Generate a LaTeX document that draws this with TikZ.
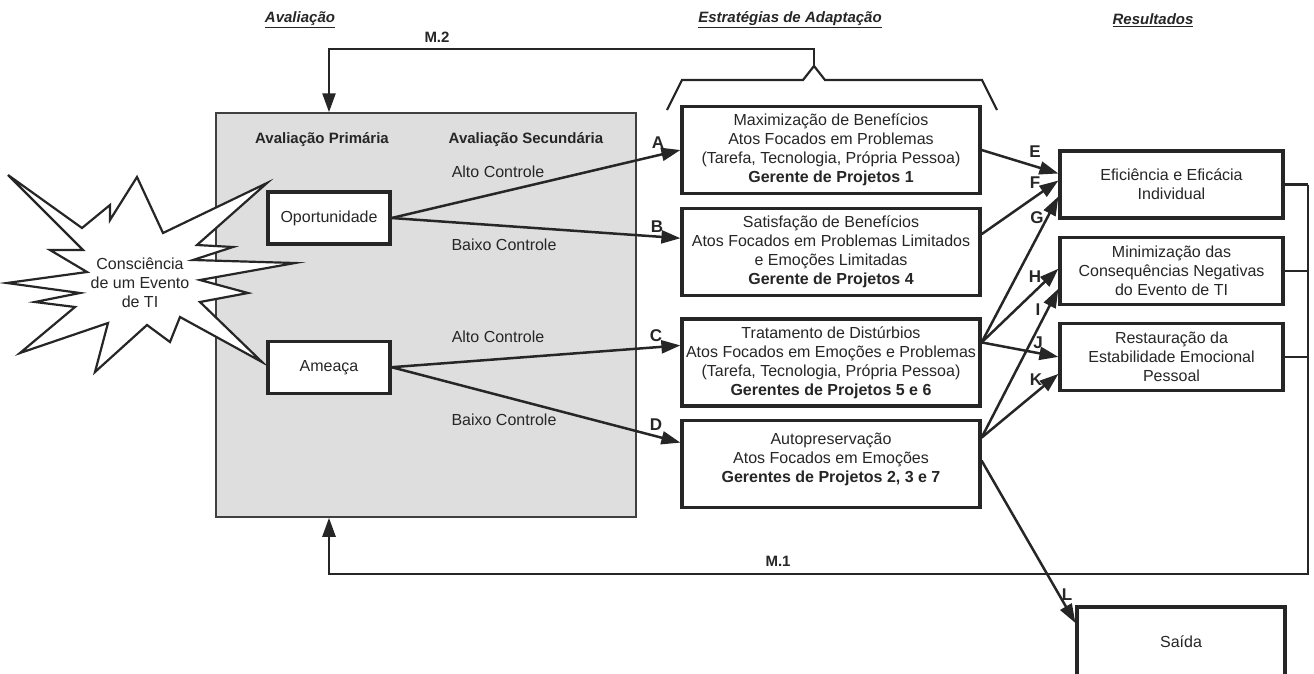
\documentclass[tikz,border=0pt]{standalone}
\usepackage{fontspec}
\setmainfont{Liberation Sans}
\usetikzlibrary{positioning}
\usetikzlibrary{arrows.meta}

\begin{document}
\begin{tikzpicture}[x=1pt,y=-1pt,
    every node/.style={font=\fontsize{16}{19}\selectfont, text=black!85},
    caixa/.style={draw=black!85, line width=3.2pt, fill=white, align=center,
                  minimum width=298pt, minimum height=87pt},
    resbox/.style={caixa, minimum width=223pt, minimum height=67pt},
    avbox/.style={caixa, minimum width=122pt, minimum height=52pt},
    seta/.style={draw=black!85, line width=2.5pt, -{Triangle[length=19pt,width=13pt]}},
    linha/.style={draw=black!85, line width=2.2pt},
    letra/.style={font=\fontsize{17}{17}\selectfont\bfseries},
    negrito/.style={font=\fontsize{15}{15}\selectfont\bfseries},
    titulo/.style={font=\fontsize{15}{15}\selectfont\bfseries\itshape}]
      \useasboundingbox (0,0) rectangle (1314,673);
      \clip (0,0) rectangle (1314,673);

      \node[titulo] (t1) at (300,20) {\underline{Avaliação}};
      \node[titulo] (t2) at (790,20) {\underline{Estratégias de Adaptação}};
      \node[titulo] (t3) at (1153,20) {\underline{Resultados}};

      % caixa cinza da avaliacao
      \node[draw=black!75, line width=1.5pt, fill=black!13,
            minimum width=420pt, minimum height=404pt] (aval) at (426,315) {};
      \node[negrito] (prim) at (322,140) {Avaliação Primária};
      \node[negrito] (sec) at (526,140) {Avaliação Secundária};

      % estrela
      \draw[draw=black!85, line width=2.2pt, fill=white, line join=miter]
        (8,175) -- (82,228) -- (110,205) -- (110,220) -- (137,177) -- (163,233)
        -- (267,183) -- (197,245) -- (233,247) -- (193,260) -- (295,263)
        -- (200,280) -- (248,293) -- (200,302) -- (262,362) -- (180,317)
        -- (170,342) -- (147,325) -- (95,372) -- (108,323) -- (20,353)
        -- (75,307) -- (35,302) -- (80,293) -- (7,283) -- (87,272)
        -- (50,250) -- (83,250) -- cycle;
      \node[align=center] (evento) at (140,283) {Consciência\\de um Evento\\de TI};

      \node[avbox] (oport) at (329,218) {Oportunidade};
      \node[avbox, below=94pt of oport] (ameaca) {Ameaça};

      \node[caixa] (max) at (831,150) {Maximização de Benefícios\\Atos Focados em Problemas\\(Tarefa, Tecnologia, Própria Pessoa)\\\textbf{Gerente de Projetos 1}};
      \node[caixa, below=12pt of max] (sat) {Satisfação de Benefícios\\Atos Focados em Problemas Limitados\\e Emoções Limitadas\\\textbf{Gerente de Projetos 4}};
      \node[caixa, below=20pt of sat] (trat) {Tratamento de Distúrbios\\Atos Focados em Emoções e Problemas\\(Tarefa, Tecnologia, Própria Pessoa)\\\textbf{Gerentes de Projetos 5 e 6}};
      \node[caixa, below=11pt of trat] (auto) {Autopreservação\\Atos Focados em Emoções\\\textbf{Gerentes de Projetos 2, 3 e 7}\\[-7pt]};

      \node[resbox] (efic) at (1171.5,184.5) {Eficiência e Eficácia\\Individual};
      \node[resbox, below=16pt of efic] (minim) {Minimização das\\Consequências Negativas\\do Evento de TI};
      \node[resbox, below=16pt of minim] (rest) {Restauração da\\Estabilidade Emocional\\Pessoal};
      \node[resbox, minimum width=208pt, minimum height=70pt] (saida) at (1181,642) {Saída};

      % chave e retorno M.2
      \coordinate (chave) at (814,66);
      \coordinate (m2) at (814,49);
      \draw[linha] (667,110) -- (682,80) -- (803,80) -- (chave) -- (825,80) -- (982,80) -- (997,110);
      \draw[seta] (chave) -- (m2) -| (aval.north -| oport);
      \node[negrito] (m2txt) at (437,37) {M.2};

      % retorno M.1
      \coordinate (bus) at (1308,574);
      \draw[linha] (efic.east) -- (efic.east -| bus);
      \draw[linha] (minim.east) -- (minim.east -| bus);
      \draw[linha] (rest.east) -- (rest.east -| bus);
      \draw[seta] (efic.east -| bus) -- (bus) -| (aval.south -| oport);
      \node[negrito] (m1txt) at (778,561) {M.1};

      \draw[seta] (oport.east) -- (max.west);
      \draw[seta] (oport.east) -- ([yshift=14pt]sat.west);
      \draw[seta] (ameaca.east) -- ([yshift=17pt]trat.west);
      \draw[seta] (ameaca.east) -- ([yshift=21pt]auto.west);
      \node (alto1) at (498,172) {Alto Controle};
      \node (baixo1) at (504,245) {Baixo Controle};
      \node (alto2) at (498,337) {Alto Controle};
      \node (baixo2) at (504,420) {Baixo Controle};
      \node[letra] (la) at (658,143) {A};
      \node[letra] (lb) at (657,227) {B};
      \node[letra] (lc) at (656,336) {C};
      \node[letra] (ld) at (656,425) {D};

      \draw[seta] (max.east) -- ([yshift=11pt]efic.west);
      \draw[seta] ([yshift=18pt]sat.east) -- ([yshift=4pt]efic.west);
      \draw[seta] ([yshift=20pt]trat.east) -- ([yshift=-12pt]efic.west);
      \draw[seta] ([yshift=20pt]trat.east) -- ([yshift=2pt]minim.west);
      \draw[seta] ([yshift=26pt]auto.east) -- ([yshift=-18pt]minim.west);
      \draw[seta] ([yshift=20pt]trat.east) -- (rest.west);
      \draw[seta] ([yshift=26pt]auto.east) -- ([yshift=-17pt]rest.west);
      \draw[seta] ([yshift=3pt]auto.east) -- ([yshift=19pt]saida.west);
      \node[letra] (le) at (1035,152) {E};
      \node[letra] (lf) at (1035,183) {F};
      \node[letra] (lg) at (1037,218) {G};
      \node[letra] (lh) at (1035,277) {H};
      \node[letra] (li) at (1038,310) {I};
      \node[letra] (lj) at (1038,343) {J};
      \node[letra] (lk) at (1036,380) {K};
      \node[letra] (ll) at (1067,595) {L};
\end{tikzpicture}
\end{document}
